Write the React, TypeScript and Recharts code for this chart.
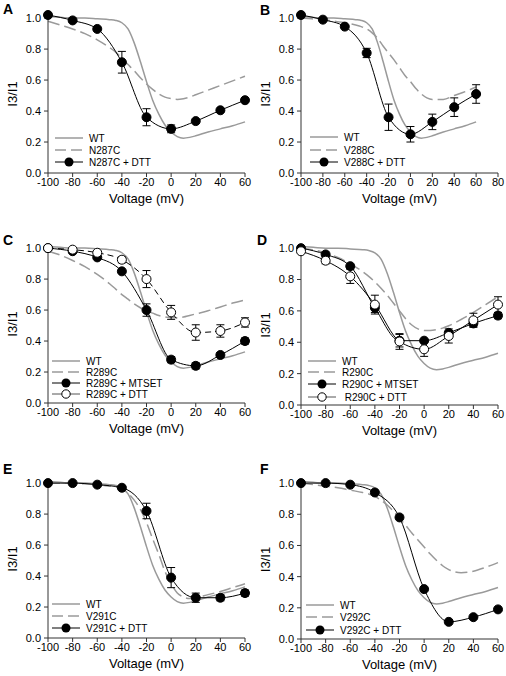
import { ErrorBar, Line, LineChart, XAxis, YAxis } from "recharts"

// test voltages (mV) and the voltages the fit curves are read at
const VOLTS = [-100, -80, -60, -40, -20, 0, 20, 40, 60]
const FIT_V = [-100, -90, -80, -70, -60, -50, -45, -40, -35, -30, -25, -20, -15, -10, -5, 0, 5, 10, 15, 20, 30, 40, 50, 60]

const Y_TICKS = [0, 0.2, 0.4, 0.6, 0.8, 1.0]
const X_TICKS = [-100, -80, -60, -40, -20, 0, 20, 40, 60]
const X_TICKS_B = [-100, -80, -60, -40, -20, 0, 20, 40, 60, 80]

// WT fit, same in every panel
const WT_FIT = [1.01, 1.005, 1.0, 1.0, 0.995, 0.99, 0.985, 0.97, 0.93, 0.84, 0.72, 0.59, 0.47, 0.38, 0.31, 0.265, 0.235, 0.225, 0.23, 0.24, 0.265, 0.285, 0.305, 0.33]

// A
const N287C_FIT = [0.98, 0.955, 0.93, 0.9, 0.86, 0.81, 0.78, 0.74, 0.7, 0.66, 0.615, 0.575, 0.54, 0.51, 0.49, 0.48, 0.475, 0.48, 0.49, 0.505, 0.535, 0.565, 0.595, 0.625]
const N287C_DTT = [1.02, 0.985, 0.93, 0.715, 0.36, 0.285, 0.335, 0.405, 0.47]
const N287C_DTT_ERR = [null, null, null, 0.07, 0.055, 0.025, null, null, null]

// B
const V288C_FIT = [1.0, 0.995, 0.99, 0.98, 0.97, 0.955, 0.945, 0.93, 0.905, 0.87, 0.82, 0.775, 0.73, 0.68, 0.63, 0.59, 0.545, 0.51, 0.485, 0.475, 0.475, 0.5, 0.525, 0.555]
const V288C_DTT = [1.02, 0.99, 0.945, 0.775, 0.36, 0.25, 0.33, 0.425, 0.51]
const V288C_DTT_ERR = [null, null, null, 0.03, 0.085, 0.05, 0.05, 0.06, 0.06]

// C
const R289C_FIT = [0.98, 0.955, 0.92, 0.88, 0.83, 0.77, 0.735, 0.7, 0.67, 0.64, 0.615, 0.595, 0.58, 0.565, 0.555, 0.55, 0.55, 0.555, 0.565, 0.575, 0.595, 0.62, 0.645, 0.665]
const R289C_MTSET = [1.0, 0.98, 0.94, 0.85, 0.6, 0.28, 0.24, 0.31, 0.4]
const R289C_MTSET_ERR = [null, null, null, null, 0.04, 0.02, 0.02, 0.015, 0.02]
const R289C_DTT = [1.0, 0.99, 0.97, 0.925, 0.8, 0.585, 0.455, 0.465, 0.52]
const R289C_DTT_ERR = [null, null, null, 0.02, 0.055, 0.045, 0.05, 0.04, 0.03]

// D
const R290C_FIT = [1.0, 0.99, 0.97, 0.94, 0.9, 0.85, 0.82, 0.785, 0.745, 0.7, 0.65, 0.6, 0.55, 0.51, 0.485, 0.475, 0.475, 0.48, 0.49, 0.505, 0.545, 0.59, 0.64, 0.69]
const R290C_MTSET = [1.0, 0.96, 0.885, 0.62, 0.41, 0.41, 0.46, 0.52, 0.57]
const R290C_MTSET_ERR = [null, null, null, 0.03, 0.04, null, null, 0.02, 0.02]
const R290C_DTT = [0.98, 0.92, 0.82, 0.64, 0.405, 0.355, 0.44, 0.54, 0.64]
const R290C_DTT_ERR = [null, 0.02, 0.045, 0.06, 0.05, 0.045, 0.045, 0.045, 0.05]

// E
const V291C_FIT = [1.0, 1.0, 1.0, 0.995, 0.99, 0.98, 0.975, 0.96, 0.935, 0.89, 0.83, 0.745, 0.64, 0.54, 0.43, 0.35, 0.29, 0.265, 0.255, 0.26, 0.28, 0.3, 0.325, 0.35]
const V291C_DTT = [1.0, 1.0, 0.99, 0.97, 0.82, 0.39, 0.26, 0.26, 0.29]
const V291C_DTT_ERR = [null, null, null, null, 0.05, 0.065, 0.03, 0.02, 0.02]

// F
const V292C_FIT = [1.0, 0.99, 0.98, 0.97, 0.955, 0.94, 0.93, 0.915, 0.89, 0.86, 0.82, 0.775, 0.73, 0.68, 0.635, 0.59, 0.545, 0.505, 0.47, 0.445, 0.425, 0.435, 0.46, 0.49]
const V292C_DTT = [1.0, 1.0, 0.99, 0.94, 0.78, 0.32, 0.11, 0.14, 0.19]

const GREY = "#9a9a9a"
const DASH = "12 5"

type Row = { v: number; y: number; err: number | null }
const rows = (xs: number[], ys: number[], errs?: (number | null)[]): Row[] =>
  xs.map((v, i) => ({ v, y: ys[i], err: errs ? errs[i] : null }))

type Kind = "wt" | "mut" | "filled" | "open"

interface Series {
  name: string
  kind: Kind
  data: Row[]
  dashed?: boolean
}

interface PanelProps {
  letter: string
  left: number
  top: number
  letterPos: [number, number]
  xMax: number
  mTop: number
  mBottom: number
  series: Series[]
  legendX: number
  legendY: number[]
}

function LegendIcon({ kind }: { kind: Kind }) {
  return (
    <svg width={28} height={10} style={{ display: "block" }}>
      {kind === "wt" && <line x1={0} y1={5} x2={28} y2={5} stroke={GREY} strokeWidth={1.5} />}
      {kind === "mut" && <line x1={0} y1={5} x2={28} y2={5} stroke={GREY} strokeWidth={1.5} strokeDasharray="11 5" />}
      {kind === "filled" && (
        <>
          <line x1={0} y1={5} x2={28} y2={5} stroke="#000" strokeWidth={1} />
          <circle cx={14} cy={5} r={4.5} fill="#000" />
        </>
      )}
      {kind === "open" && (
        <>
          <line x1={0} y1={5} x2={28} y2={5} stroke="#555" strokeWidth={1} />
          <circle cx={14} cy={5} r={4.2} fill="#fff" stroke="#000" />
        </>
      )}
    </svg>
  )
}

function Panel(p: PanelProps) {
  const xTicks = p.xMax === 80 ? X_TICKS_B : X_TICKS
  return (
    <div style={{ position: "absolute", left: p.left, top: p.top, width: 253, height: 225 }}>
      <LineChart width={253} height={225} margin={{ top: p.mTop, right: 8, bottom: p.mBottom, left: 0 }}>
        <XAxis
          type="number"
          dataKey="v"
          domain={[-100, p.xMax]}
          ticks={xTicks}
          interval={0}
          stroke="#333"
          tickSize={4}
          tickMargin={1}
          height={30}
          tick={{ fontSize: 11, fill: "#000" }}
          label={{ value: "Voltage (mV)", position: "insideBottom", offset: 0, fontSize: 13, fill: "#000" }}
        />
        <YAxis
          type="number"
          domain={[0, 1.02]}
          ticks={Y_TICKS}
          interval={0}
          width={48}
          stroke="#333"
          tickSize={4}
          tickMargin={3}
          tickFormatter={(t: number) => t.toFixed(1)}
          tick={{ fontSize: 11, fill: "#000" }}
          label={{ value: "I3/I1", angle: -90, position: "insideLeft", offset: 12, fontSize: 13, fill: "#000", style: { textAnchor: "middle" } }}
        />
        {p.series.map((s) => {
          if (s.kind === "wt" || s.kind === "mut") {
            return (
              <Line
                key={s.name}
                data={s.data}
                dataKey="y"
                type="monotone"
                stroke={GREY}
                strokeWidth={1.5}
                strokeDasharray={s.kind === "mut" ? DASH : undefined}
                dot={false}
                isAnimationActive={false}
              />
            )
          }
          const open = s.kind === "open"
          return (
            <Line
              key={s.name}
              data={s.data}
              dataKey="y"
              type="monotone"
              stroke="#000"
              strokeWidth={1}
              strokeDasharray={s.dashed ? "6 4" : undefined}
              dot={{ r: 4.5, fill: open ? "#fff" : "#000", stroke: "#000", strokeWidth: 1, strokeDasharray: "" }}
              isAnimationActive={false}
            >
              <ErrorBar dataKey="err" direction="y" width={4} stroke="#000" strokeWidth={1} />
            </Line>
          )
        })}
      </LineChart>
      <div style={{ position: "absolute", left: p.letterPos[0], top: p.letterPos[1], fontSize: 14, fontWeight: "bold", lineHeight: "14px" }}>
        {p.letter}
      </div>
      {p.series.map((s, i) => (
        <div
          key={s.name}
          style={{
            position: "absolute",
            left: p.legendX,
            top: p.legendY[i] - 6,
            height: 12,
            display: "flex",
            alignItems: "center",
            fontSize: 10,
            whiteSpace: "pre",
          }}
        >
          <LegendIcon kind={s.kind} />
          <span style={{ marginLeft: 6 }}>{s.name}</span>
        </div>
      ))}
    </div>
  )
}

export default function App() {
  const wt = rows(FIT_V, WT_FIT)
  return (
    <div
      style={{
        position: "absolute",
        left: 0,
        top: 0,
        width: 506,
        height: 676,
        background: "#fff",
        fontFamily: '"Liberation Sans", Arial, sans-serif',
      }}
    >
      <Panel
        letter="A"
        left={0}
        top={0}
        letterPos={[3, 2]}
        xMax={60}
        mTop={15}
        mBottom={22}
        legendX={55}
        legendY={[138, 150, 162]}
        series={[
          { name: "WT", kind: "wt", data: wt },
          { name: "N287C", kind: "mut", data: rows(FIT_V, N287C_FIT) },
          { name: "N287C + DTT", kind: "filled", data: rows(VOLTS, N287C_DTT, N287C_DTT_ERR) },
        ]}
      />
      <Panel
        letter="B"
        left={253}
        top={0}
        letterPos={[7, 3]}
        xMax={80}
        mTop={15}
        mBottom={22}
        legendX={57}
        legendY={[137, 150, 162]}
        series={[
          { name: "WT", kind: "wt", data: wt },
          { name: "V288C", kind: "mut", data: rows(FIT_V, V288C_FIT) },
          { name: "V288C + DTT", kind: "filled", data: rows(VOLTS, V288C_DTT, V288C_DTT_ERR) },
        ]}
      />
      <Panel
        letter="C"
        left={0}
        top={225}
        letterPos={[3, 8]}
        xMax={60}
        mTop={20}
        mBottom={17}
        legendX={52}
        legendY={[136, 147, 158, 169]}
        series={[
          { name: "WT", kind: "wt", data: wt },
          { name: "R289C", kind: "mut", data: rows(FIT_V, R289C_FIT) },
          { name: "R289C + MTSET", kind: "filled", data: rows(VOLTS, R289C_MTSET, R289C_MTSET_ERR) },
          { name: "R289C + DTT", kind: "open", dashed: true, data: rows(VOLTS, R289C_DTT, R289C_DTT_ERR) },
        ]}
      />
      <Panel
        letter="D"
        left={253}
        top={225}
        letterPos={[4, 8]}
        xMax={60}
        mTop={20}
        mBottom={15}
        legendX={55}
        legendY={[136, 147, 159, 172]}
        series={[
          { name: "WT", kind: "wt", data: wt },
          { name: "R290C", kind: "mut", data: rows(FIT_V, R290C_FIT) },
          { name: "R290C + MTSET", kind: "filled", data: rows(VOLTS, R290C_MTSET, R290C_MTSET_ERR) },
          { name: " R290C + DTT", kind: "open", data: rows(VOLTS, R290C_DTT, R290C_DTT_ERR) },
        ]}
      />
      <Panel
        letter="E"
        left={0}
        top={450}
        letterPos={[3, 12]}
        xMax={60}
        mTop={30}
        mBottom={7}
        legendX={52}
        legendY={[154, 166, 178]}
        series={[
          { name: "WT", kind: "wt", data: wt },
          { name: "V291C", kind: "mut", data: rows(FIT_V, V291C_FIT) },
          { name: "V291C + DTT", kind: "filled", data: rows(VOLTS, V291C_DTT, V291C_DTT_ERR) },
        ]}
      />
      <Panel
        letter="F"
        left={253}
        top={450}
        letterPos={[7, 12]}
        xMax={60}
        mTop={30}
        mBottom={6}
        legendX={53}
        legendY={[155, 167, 180]}
        series={[
          { name: "WT", kind: "wt", data: wt },
          { name: "V292C", kind: "mut", data: rows(FIT_V, V292C_FIT) },
          { name: "V292C + DTT", kind: "filled", data: rows(VOLTS, V292C_DTT) },
        ]}
      />
    </div>
  )
}
